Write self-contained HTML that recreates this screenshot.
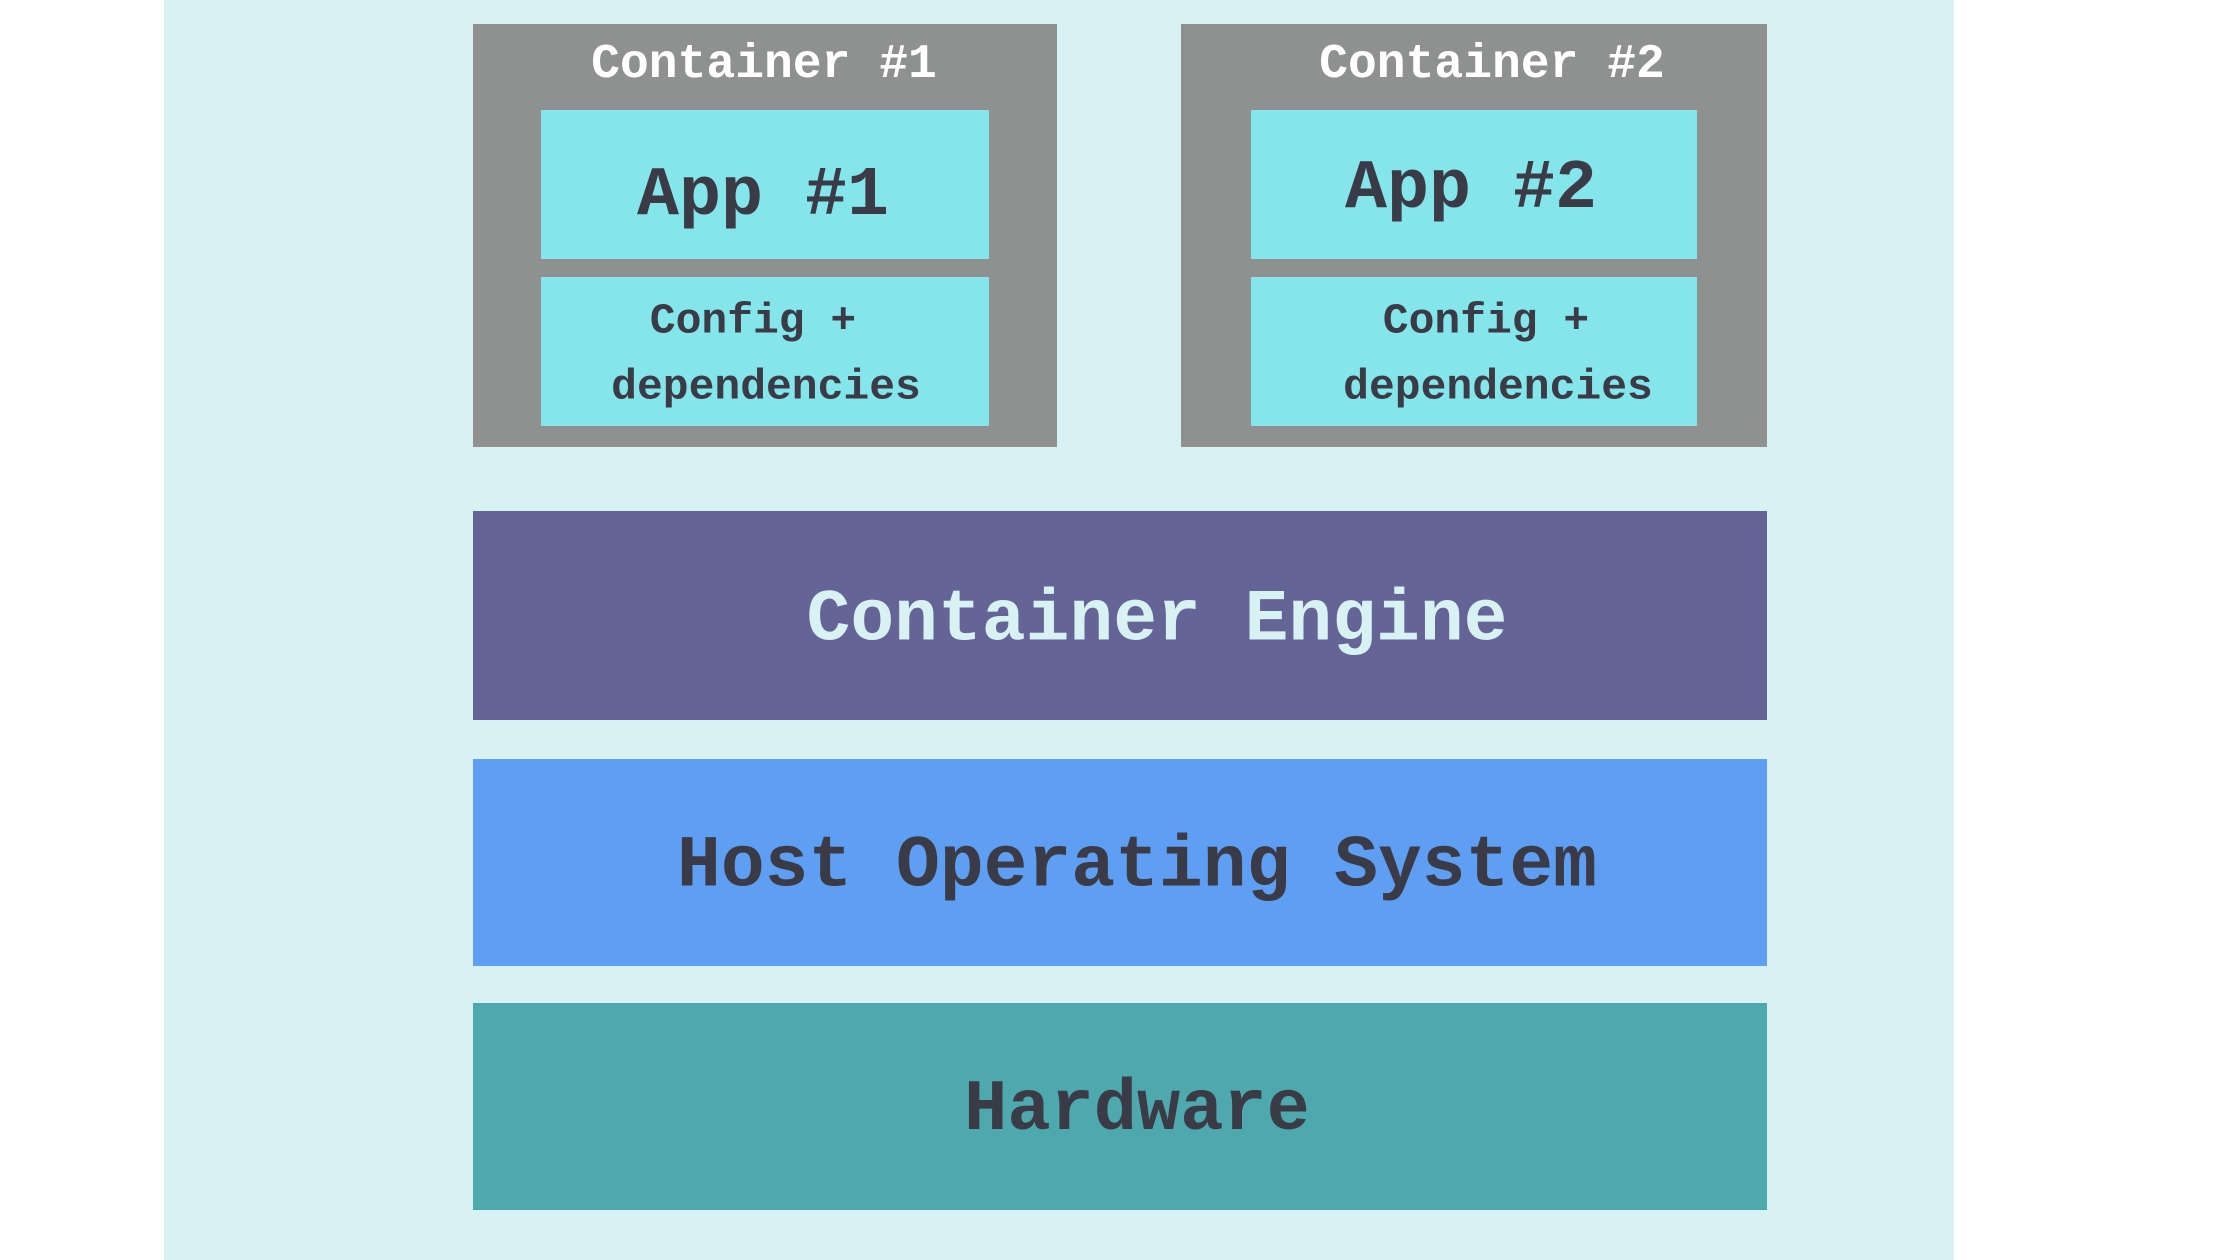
<!DOCTYPE html>
<html><head><meta charset="utf-8"><style>
html,body{margin:0;padding:0;width:2240px;height:1260px;overflow:hidden;background:#fff}
.b{position:absolute}
.t{position:absolute;font-family:"Liberation Mono",monospace;font-weight:bold;white-space:pre;transform:translate(-50%,-50%);line-height:1}
</style></head><body>
<div class="b" style="left:164px;top:0;width:1790px;height:1260px;background:#d8f1f2"></div>
<div class="b" style="left:473px;top:24px;width:584px;height:423px;background:#8f9190"></div>
<div class="b" style="left:1181px;top:24px;width:586px;height:423px;background:#8f9190"></div>
<div class="b" style="left:541px;top:110px;width:448px;height:149px;background:#84e5eb"></div>
<div class="b" style="left:1251px;top:110px;width:446px;height:149px;background:#84e5eb"></div>
<div class="b" style="left:541px;top:277px;width:448px;height:149px;background:#84e5eb"></div>
<div class="b" style="left:1251px;top:277px;width:446px;height:149px;background:#84e5eb"></div>
<div class="b" style="left:473px;top:511px;width:1294px;height:209px;background:#646496"></div>
<div class="b" style="left:473px;top:759px;width:1294px;height:207px;background:#5f9ff3"></div>
<div class="b" style="left:473px;top:1003px;width:1294px;height:207px;background:#4ea9ae"></div>

<div class="t" style="left:764px;top:65px;font-size:48px;color:#fff">Container #1</div>
<div class="t" style="left:1492px;top:65px;font-size:48px;color:#fff">Container #2</div>
<div class="t" style="left:763px;top:197px;font-size:70px;color:#3b3b48">App #1</div>
<div class="t" style="left:1471px;top:190px;font-size:70px;color:#3b3b48">App #2</div>
<div class="t" style="left:753px;top:321px;font-size:43px;color:#3b3b48">Config +</div>
<div class="t" style="left:766px;top:387px;font-size:43px;color:#3b3b48">dependencies</div>
<div class="t" style="left:1486px;top:321px;font-size:43px;color:#3b3b48">Config +</div>
<div class="t" style="left:1498px;top:387px;font-size:43px;color:#3b3b48">dependencies</div>
<div class="t" style="left:1157px;top:620px;font-size:73px;color:#d8f1f2">Container Engine</div>
<div class="t" style="left:1137px;top:866px;font-size:73px;color:#3b3b48">Host Operating System</div>
<div class="t" style="left:1137px;top:1110px;font-size:72px;color:#3b3b48">Hardware</div>
</body></html>
